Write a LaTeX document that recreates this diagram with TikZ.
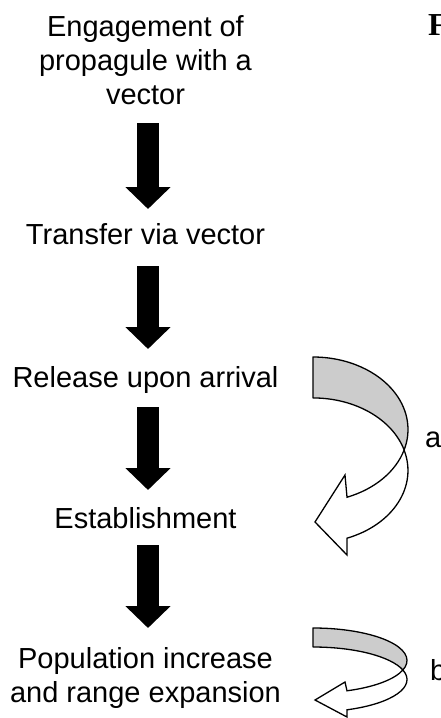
\documentclass[tikz,border=0pt]{standalone}
\usepackage{fontspec}
\setmainfont{Liberation Sans}
\newfontfamily\headfont{Liberation Serif}
\usetikzlibrary{arrows.meta}
\definecolor{bandgray}{RGB}{204,204,204}
\begin{document}
\begin{tikzpicture}[x=1pt,y=-1pt,
  stage/.style={font=\fontsize{29}{34}\selectfont, inner sep=0pt, anchor=base, align=center},
  blockarrow/.style={line width=22pt, -{Triangle[width=44pt,length=22pt]}},
  backband/.style={draw=black, fill=bandgray, line width=1.3pt, line join=round},
  frontband/.style={draw=black, fill=white, line width=1.3pt, line join=miter},
  tag/.style={font=\fontsize{29}{34}\selectfont, inner sep=0pt, anchor=base west}]
\useasboundingbox (0,0) rectangle (441,718);

% stages of the invasion process (base anchor = baseline of the last line)
\node[stage] (engage) at (145.5,104) {Engagement of\\propagule with a\\vector};
\node[stage] (transfer) at (145.5,244) {Transfer via vector};
\node[stage] (release) at (145.5,387) {Release upon arrival};
\node[stage] (establish) at (145.5,528) {Establishment};
\node[stage] (population) at (145.5,702) {Population increase\\and range expansion};

% ends of the block arrows between stages
\coordinate (a1s) at (148,123); \coordinate (a1e) at (148,209);
\coordinate (a2s) at (148,266); \coordinate (a2e) at (148,349);
\coordinate (a3s) at (148,407); \coordinate (a3e) at (148,490);
\coordinate (a4s) at (148,545); \coordinate (a4e) at (148,628);
\draw[blockarrow] (a1s) -- (a1e);
\draw[blockarrow] (a2s) -- (a2e);
\draw[blockarrow] (a3s) -- (a3e);
\draw[blockarrow] (a4s) -- (a4e);

% curved arrow a: back half (shaded) and front half with head
\draw[backband] (313,357)
  arc[start angle=-90, end angle=16.4, x radius=95, y radius=72.5]
  arc[start angle=-16.4, end angle=-90, x radius=95, y radius=72.5] -- cycle;
\draw[frontband] (404.1,450)
  arc[start angle=16.4, end angle=69, x radius=95, y radius=72.5]
  -- (345,475) -- (315,522) -- (347,555) -- (347,538.2)
  arc[start angle=69, end angle=-16.4, x radius=95, y radius=72.5] -- cycle;
\node[tag] (labela) at (425,447) {a};

% curved arrow b: back half (shaded) and front half with head
\draw[backband] (313,628)
  arc[start angle=-90, end angle=17, x radius=94, y radius=32.5]
  arc[start angle=-17, end angle=-90, x radius=94, y radius=32.5] -- cycle;
\draw[frontband] (402.9,670)
  arc[start angle=17, end angle=68.8, x radius=94, y radius=32.5]
  -- (345,682) -- (315,700) -- (347,717) -- (347,709.8)
  arc[start angle=68.8, end angle=-17, x radius=94, y radius=32.5] -- cycle;
\node[tag] (labelb) at (430,680) {b};

% heading letter at the top right
\node[inner sep=0pt, anchor=base west, font=\headfont\bfseries\fontsize{32}{36}\selectfont] (head) at (428,35) {F};
\end{tikzpicture}
\end{document}
